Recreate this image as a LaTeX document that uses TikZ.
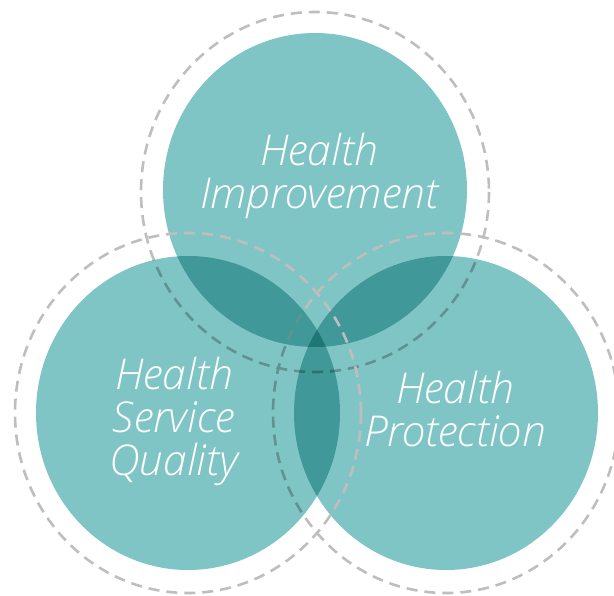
\documentclass[tikz,border=0pt]{standalone}
\usepackage{fontspec}
\IfFontExistsTF{Open Sans Light Italic}
  {\setmainfont{Open Sans Light}[ItalicFont={Open Sans Light Italic}]}
  {\IfFontExistsTF{Lato Light Italic}
     {\setmainfont{Lato Light}[ItalicFont={Lato Light Italic}]}
     {\setmainfont{Open Sans}}}
\usetikzlibrary{calc}
\definecolor{venn}{RGB}{128,197,197}
\definecolor{ringgray}{RGB}{192,190,188}

\begin{document}
\begin{tikzpicture}[x=1pt,y=-1pt]
    \tikzstyle{every node}=[font=\fontsize{42.5}{43}\selectfont\itshape, text=white, align=center, inner sep=0pt]
    \tikzstyle{blob}=[fill=venn, blend mode=multiply]
    \tikzstyle{ring}=[draw=ringgray, line width=2.6pt, dash pattern=on 11pt off 7pt]
    \useasboundingbox (0,0) rectangle (614,596);

    % top set
    \fill[blob] (315,190) ellipse [x radius=152, y radius=157];
    \draw[ring] (315,192) ellipse [x radius=174, y radius=180];
    % right set
    \fill[blob] (446,413) ellipse [x radius=152, y radius=157];
    \draw[ring] (446,413) ellipse [x radius=173, y radius=180];
    % left set
    \fill[blob] (188,413) ellipse [x radius=152, y radius=157];
    \draw[ring] (188,413) ellipse [x radius=173, y radius=180];

    \node (improve) at (319,176) {Health\\Improvement};
    \node (quality) at (174,421) {Health\\Service\\Quality};
    \node (protect) at (455,409) {Health\\Protection};
\end{tikzpicture}
\end{document}
